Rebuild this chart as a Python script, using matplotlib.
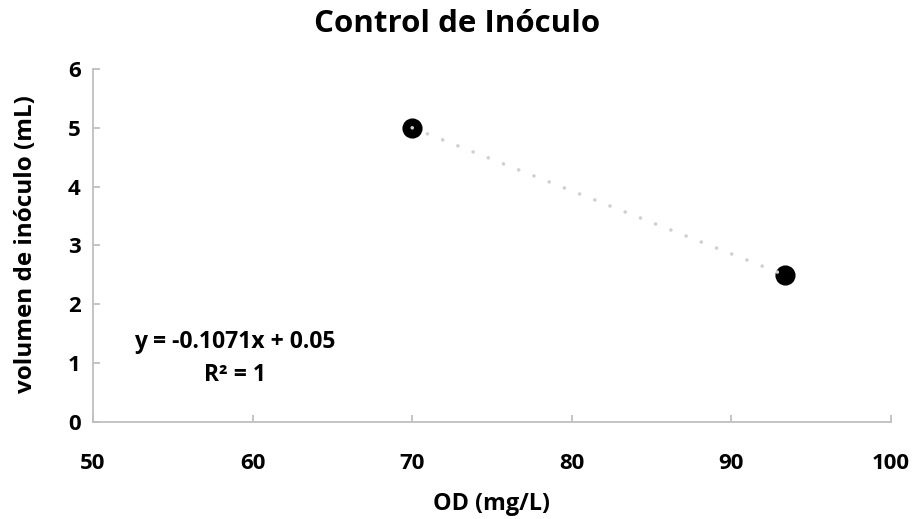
"""
Control de Inóculo - scatter with linear trendline (Excel style)
"""

import matplotlib
matplotlib.use('Agg')
import matplotlib.pyplot as plt
import numpy as np

# Data
od_values = [70.0, 93.33]
volumen_ml = [5.0, 2.5]
x_ticks = [50, 60, 70, 80, 90, 100]
y_ticks = [0, 1, 2, 3, 4, 5, 6]
eq_text = 'y = -0.1071x + 0.05'
r2_text = 'R² = 1'

plt.rcParams['font.family'] = ['Open Sans', 'DejaVu Sans']
plt.rcParams['font.weight'] = 'bold'

axis_gray = '#bfbfbf'

fig = plt.figure(figsize=(9.14, 5.19), dpi=100)
ax = fig.add_axes([0.1018, 0.1869, 0.8730, 0.6802])

# Points
ax.scatter(od_values, volumen_ml, s=13.5 ** 2, color='black', zorder=3)

# Linear trendline across the data range
coef = np.polyfit(od_values, volumen_ml, 1)
xs = np.array([min(od_values), max(od_values)])
ax.plot(xs, np.polyval(coef, xs), color='#d0d0d0', linewidth=2.6,
        linestyle=(0, (0.01, 4.52)), dash_capstyle='round', zorder=4)

ax.text(0.178, 0.227, eq_text, transform=ax.transAxes, ha='center',
        va='center', fontsize=16.5, fontweight='bold')
ax.text(0.178, 0.133, r2_text, transform=ax.transAxes, ha='center',
        va='center', fontsize=16.5, fontweight='bold')

ax.set_xlim(50, 100)
ax.set_ylim(0, 6)
ax.set_xticks(x_ticks)
ax.set_yticks(y_ticks)

for side in ['top', 'right']:
    ax.spines[side].set_visible(False)
for side in ['left', 'bottom']:
    ax.spines[side].set_color(axis_gray)
    ax.spines[side].set_linewidth(1.3)

ax.tick_params(axis='both', direction='in', length=5, width=1.3,
               color=axis_gray, labelsize=16)
ax.tick_params(axis='x', pad=22)
ax.tick_params(axis='y', pad=9)
for lbl in ax.get_xticklabels() + ax.get_yticklabels():
    lbl.set_fontweight('bold')

ax.set_xlabel('OD (mg/L)', fontsize=16.8, fontweight='bold')
ax.set_ylabel('volumen de inóculo (mL)', fontsize=17.5, fontweight='bold')
ax.xaxis.label.set_va('center')
ax.yaxis.label.set_va('center')
ax.xaxis.set_label_coords(0.499, -0.233)
ax.yaxis.set_label_coords(-0.084, 0.503)
fig.suptitle('Control de Inóculo', fontsize=22.5, fontweight='bold',
             y=0.953, va='center')

fig.savefig('out.png', dpi=100)
